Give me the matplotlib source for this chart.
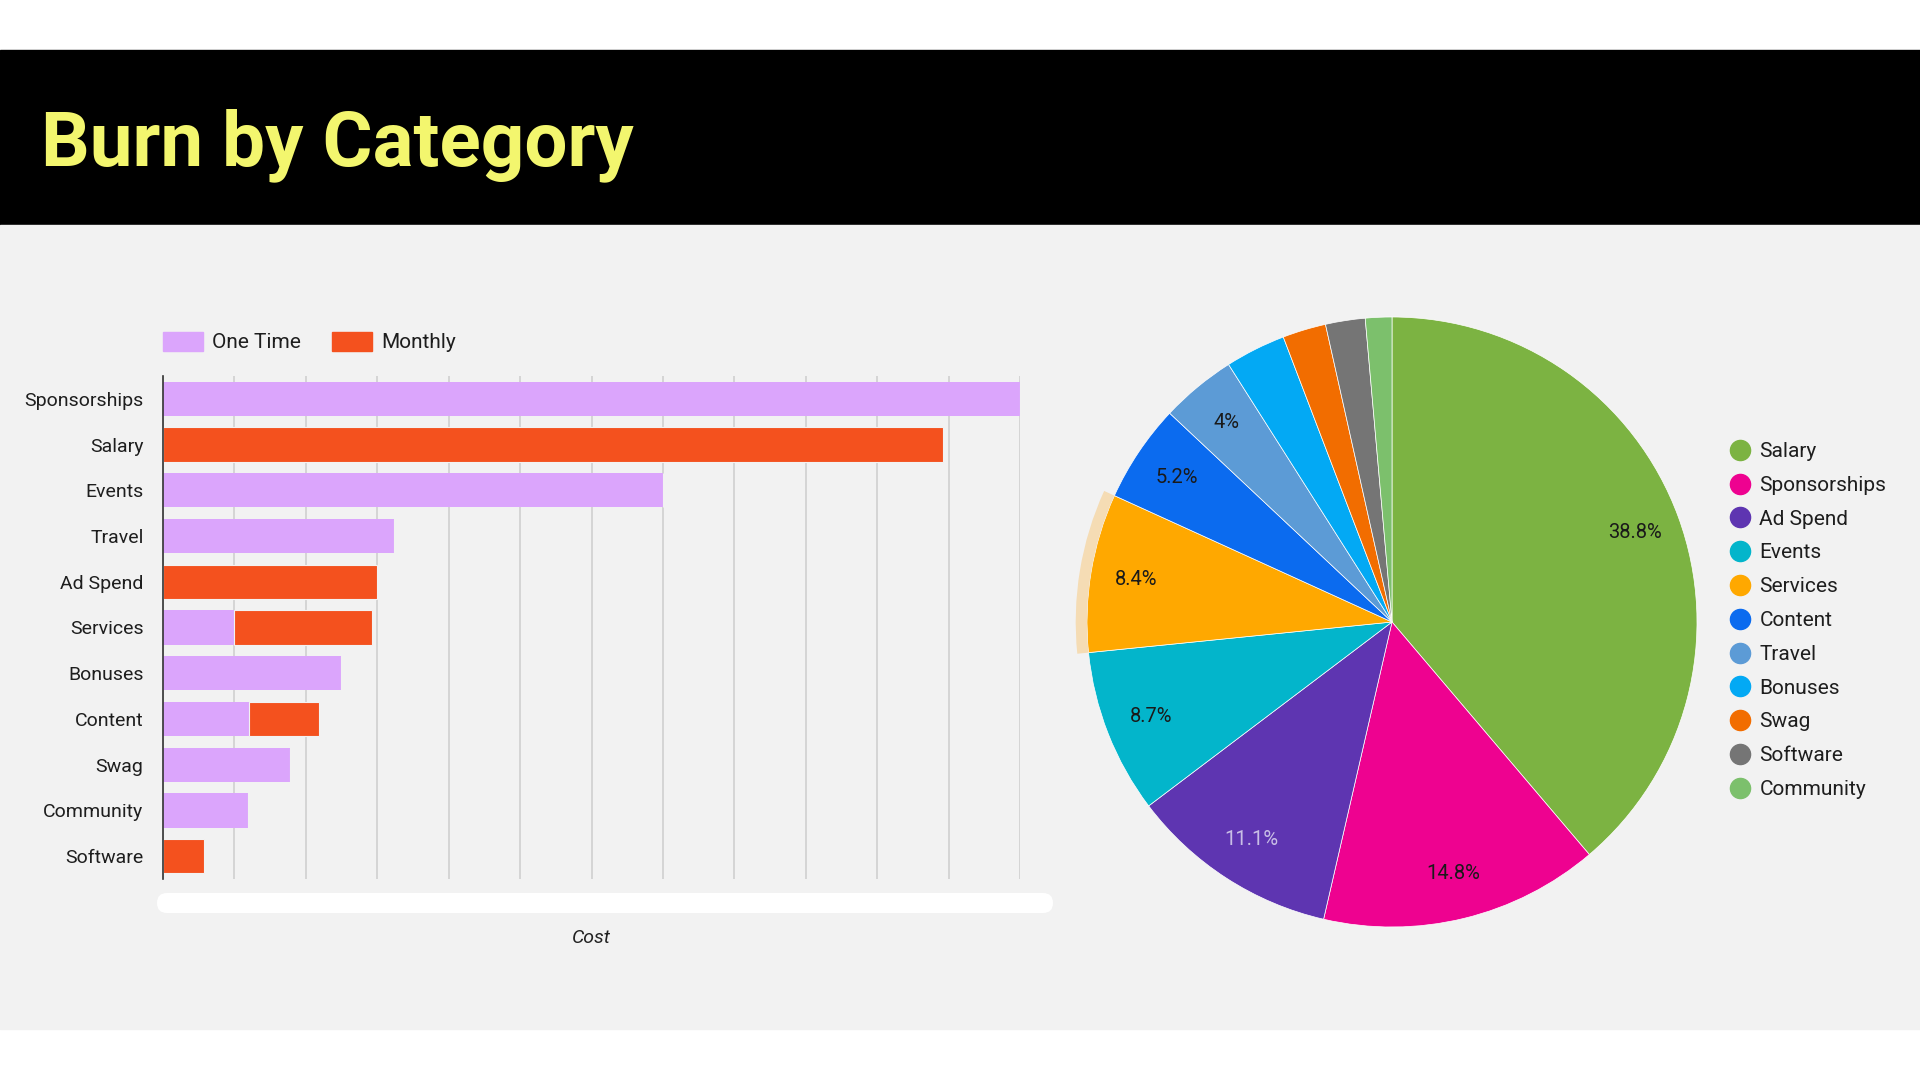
import numpy as np
import matplotlib
matplotlib.use("agg")
import matplotlib.pyplot as plt
from matplotlib.patches import Rectangle, Wedge, FancyBboxPatch, Patch
from matplotlib.lines import Line2D
from matplotlib.transforms import IdentityTransform

plt.rcParams["font.family"] = ["Roboto", "DejaVu Sans"]

# bar chart data (cost, grid step = 1000)
bar_categories = ["Sponsorships", "Salary", "Events", "Travel", "Ad Spend", "Services",
                  "Bonuses", "Content", "Swag", "Community", "Software"]
one_time = [12000, 0, 7000, 3230, 0, 1000, 2490, 1200, 1780, 1190, 0]
monthly = [0, 10920, 0, 0, 2990, 1920, 0, 980, 0, 0, 570]

# pie data (% of burn)
pie_categories = ["Salary", "Sponsorships", "Ad Spend", "Events", "Services", "Content",
                  "Travel", "Bonuses", "Swag", "Software", "Community"]
pie_values = [38.8, 14.8, 11.1, 8.7, 8.4, 5.2, 4.0, 3.2, 2.3, 2.1, 1.4]
pie_colors = ["#7cb342", "#ee0290", "#5e35b1", "#03b5cb", "#ffa800", "#0b6bef",
              "#5c9bd6", "#03a9f4", "#f26d00", "#757575", "#7cc06c"]

W, H = 1920, 1080
fig = plt.figure(figsize=(19.2, 10.8), dpi=100, facecolor="white")

# page background: header band + grey panel
fig.add_artist(Rectangle((0, 1 - 225 / H), 1, 175 / H, transform=fig.transFigure,
                         color="black", zorder=-10))
fig.add_artist(Rectangle((0, 1 - 1029 / H), 1, 804 / H, transform=fig.transFigure,
                         color="#f2f2f2", zorder=-10))
fig.text(41 / W, 1 - 165 / H, "Burn by Category", color="#f3f66e", fontsize=55,
         fontweight="bold", va="baseline", ha="left")

# ---- stacked horizontal bars
ax = fig.add_axes([163 / W, 1 - 879 / H, (1020 - 163) / W, (879 - 376) / H])
ax.set_facecolor("none")
y = np.arange(len(bar_categories))
ax.barh(y, one_time, height=0.75, color="#dba5fc", label="One Time", zorder=2)
ax.barh(y, monthly, left=one_time, height=0.75, color="#f4511e", label="Monthly",
        edgecolor="#f2f2f2", linewidth=0.8, zorder=2)
ax.set_ylim(len(bar_categories) - 0.5, -0.5)
ax.set_xlim(0, 12000)
ax.set_xticks(np.arange(0, 12001, 1000))
ax.set_yticks(y)
ax.set_yticklabels(bar_categories, fontsize=14, color="#1e1e1e")
ax.tick_params(axis="both", length=0)
ax.tick_params(axis="y", pad=14)
ax.tick_params(axis="x", labelbottom=False)
ax.grid(axis="x", color="#d0d0d0", linewidth=1.2, zorder=0)
ax.set_axisbelow(True)
for s in ["top", "right", "bottom"]:
    ax.spines[s].set_visible(False)
ax.spines["left"].set_color("#333333")
ax.spines["left"].set_linewidth(1.2)
ax.spines["left"].set_zorder(3)
ax.set_xlabel("Cost", fontsize=14, style="italic", color="#222222", labelpad=36)

handles = [Patch(color="#dba5fc"), Patch(color="#f4511e")]
ax.legend(handles, ["One Time", "Monthly"], loc="lower left", bbox_to_anchor=(0, 1.047),
          ncol=2, frameon=False, fontsize=15, handlelength=1.9, handleheight=1.0,
          handletextpad=0.45, columnspacing=1.5, borderpad=0, borderaxespad=0,
          labelcolor="#1e1e1e")

# scrollbar under the bar chart
fig.add_artist(FancyBboxPatch((157, H - 913), 896, 20,
                              boxstyle="round,pad=0,rounding_size=10",
                              transform=IdentityTransform(), facecolor="white",
                              edgecolor="none", zorder=-5))

# ---- pie
R = 305
half = 1.1 * R
ax2 = fig.add_axes([(1392 - half) / W, (H - 622 - half) / H, 2 * half / W, 2 * half / H])
ax2.set_facecolor("none")
wedges, texts, autotexts = ax2.pie(
    pie_values, colors=pie_colors, startangle=90, counterclock=False, radius=1,
    autopct=lambda p: f"{round(p, 1):g}%" if p >= 3.95 else "", pctdistance=0.85,
    wedgeprops=dict(edgecolor="white", linewidth=0.5),
    textprops=dict(fontsize=14.5, color="#1a1a1a"))
autotexts[2].set_color("#c9bfe6")
sel = wedges[4]
ax2.add_patch(Wedge((0, 0), 1.037, sel.theta1, sel.theta2, width=0.037,
                    facecolor="#f5dcb4", edgecolor="none"))
ax2.set_xlim(-1.1, 1.1)
ax2.set_ylim(-1.1, 1.1)
ax2.set_aspect("equal")
ax2.axis("off")

pie_handles = [Line2D([], [], marker="o", ls="", markersize=14.5,
                      markerfacecolor=c, markeredgecolor=c) for c in pie_colors]
fig.legend(pie_handles, pie_categories, loc="center left",
           bbox_to_anchor=(1730 / W, 1 - 620.5 / H), frameon=False, fontsize=15,
           handlelength=1.0, handletextpad=0.41, labelspacing=0.71,
           borderpad=0, borderaxespad=0, labelcolor="#1e1e1e")

fig.savefig("out.png", dpi=100, facecolor="white")
plt.close(fig)
